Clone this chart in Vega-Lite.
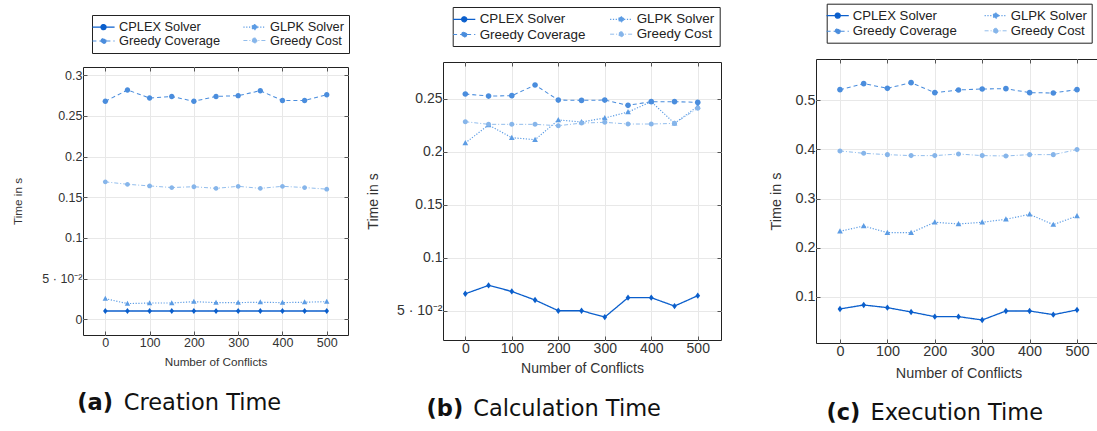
{
  "$schema": "https://vega.github.io/schema/vega-lite/v6.json",
  "background": "white",
  "padding": {"left": 12, "top": 2, "right": -4, "bottom": 5},
  "config": {
    "view": {"stroke": "#222", "strokeWidth": 1},
    "axis": {"labelFont": "Liberation Sans", "titleFont": "Liberation Sans", "labelColor": "#333", "titleColor": "#333", "titleFontWeight": "normal", "tickColor": "#555", "gridColor": "#e8e8e8"}
  },
  "data": {"values": [
    {"p":"a","s":"CPLEX Solver","n":0,"t":0.0102},{"p":"a","s":"CPLEX Solver","n":50,"t":0.0102},{"p":"a","s":"CPLEX Solver","n":100,"t":0.0102},{"p":"a","s":"CPLEX Solver","n":150,"t":0.0102},{"p":"a","s":"CPLEX Solver","n":200,"t":0.0102},{"p":"a","s":"CPLEX Solver","n":250,"t":0.0102},{"p":"a","s":"CPLEX Solver","n":300,"t":0.0102},{"p":"a","s":"CPLEX Solver","n":350,"t":0.0102},{"p":"a","s":"CPLEX Solver","n":400,"t":0.0102},{"p":"a","s":"CPLEX Solver","n":450,"t":0.0102},{"p":"a","s":"CPLEX Solver","n":500,"t":0.0102},
    {"p":"a","s":"GLPK Solver","n":0,"t":0.0254},{"p":"a","s":"GLPK Solver","n":50,"t":0.0193},{"p":"a","s":"GLPK Solver","n":100,"t":0.0200},{"p":"a","s":"GLPK Solver","n":150,"t":0.0200},{"p":"a","s":"GLPK Solver","n":200,"t":0.0217},{"p":"a","s":"GLPK Solver","n":250,"t":0.0205},{"p":"a","s":"GLPK Solver","n":300,"t":0.0205},{"p":"a","s":"GLPK Solver","n":350,"t":0.0210},{"p":"a","s":"GLPK Solver","n":400,"t":0.0205},{"p":"a","s":"GLPK Solver","n":450,"t":0.0210},{"p":"a","s":"GLPK Solver","n":500,"t":0.0217},
    {"p":"a","s":"Greedy Coverage","n":0,"t":0.268},{"p":"a","s":"Greedy Coverage","n":50,"t":0.282},{"p":"a","s":"Greedy Coverage","n":100,"t":0.272},{"p":"a","s":"Greedy Coverage","n":150,"t":0.274},{"p":"a","s":"Greedy Coverage","n":200,"t":0.268},{"p":"a","s":"Greedy Coverage","n":250,"t":0.274},{"p":"a","s":"Greedy Coverage","n":300,"t":0.275},{"p":"a","s":"Greedy Coverage","n":350,"t":0.281},{"p":"a","s":"Greedy Coverage","n":400,"t":0.269},{"p":"a","s":"Greedy Coverage","n":450,"t":0.269},{"p":"a","s":"Greedy Coverage","n":500,"t":0.276},
    {"p":"a","s":"Greedy Cost","n":0,"t":0.169},{"p":"a","s":"Greedy Cost","n":50,"t":0.166},{"p":"a","s":"Greedy Cost","n":100,"t":0.164},{"p":"a","s":"Greedy Cost","n":150,"t":0.162},{"p":"a","s":"Greedy Cost","n":200,"t":0.163},{"p":"a","s":"Greedy Cost","n":250,"t":0.161},{"p":"a","s":"Greedy Cost","n":300,"t":0.1635},{"p":"a","s":"Greedy Cost","n":350,"t":0.161},{"p":"a","s":"Greedy Cost","n":400,"t":0.1635},{"p":"a","s":"Greedy Cost","n":450,"t":0.162},{"p":"a","s":"Greedy Cost","n":500,"t":0.160},
    {"p":"b","s":"CPLEX Solver","n":0,"t":0.066},{"p":"b","s":"CPLEX Solver","n":50,"t":0.0739},{"p":"b","s":"CPLEX Solver","n":100,"t":0.0682},{"p":"b","s":"CPLEX Solver","n":150,"t":0.0601},{"p":"b","s":"CPLEX Solver","n":200,"t":0.050},{"p":"b","s":"CPLEX Solver","n":250,"t":0.050},{"p":"b","s":"CPLEX Solver","n":300,"t":0.044},{"p":"b","s":"CPLEX Solver","n":350,"t":0.0623},{"p":"b","s":"CPLEX Solver","n":400,"t":0.0623},{"p":"b","s":"CPLEX Solver","n":450,"t":0.0544},{"p":"b","s":"CPLEX Solver","n":500,"t":0.0642},
    {"p":"b","s":"GLPK Solver","n":0,"t":0.2082},{"p":"b","s":"GLPK Solver","n":50,"t":0.2252},{"p":"b","s":"GLPK Solver","n":100,"t":0.2132},{"p":"b","s":"GLPK Solver","n":150,"t":0.2113},{"p":"b","s":"GLPK Solver","n":200,"t":0.2299},{"p":"b","s":"GLPK Solver","n":250,"t":0.228},{"p":"b","s":"GLPK Solver","n":300,"t":0.2318},{"p":"b","s":"GLPK Solver","n":350,"t":0.2374},{"p":"b","s":"GLPK Solver","n":400,"t":0.2472},{"p":"b","s":"GLPK Solver","n":450,"t":0.2267},{"p":"b","s":"GLPK Solver","n":500,"t":0.2428},
    {"p":"b","s":"Greedy Coverage","n":0,"t":0.2544},{"p":"b","s":"Greedy Coverage","n":50,"t":0.2525},{"p":"b","s":"Greedy Coverage","n":100,"t":0.2528},{"p":"b","s":"Greedy Coverage","n":150,"t":0.2629},{"p":"b","s":"Greedy Coverage","n":200,"t":0.2487},{"p":"b","s":"Greedy Coverage","n":250,"t":0.2484},{"p":"b","s":"Greedy Coverage","n":300,"t":0.2487},{"p":"b","s":"Greedy Coverage","n":350,"t":0.2437},{"p":"b","s":"Greedy Coverage","n":400,"t":0.2472},{"p":"b","s":"Greedy Coverage","n":450,"t":0.2472},{"p":"b","s":"Greedy Coverage","n":500,"t":0.2465},
    {"p":"b","s":"Greedy Cost","n":0,"t":0.2283},{"p":"b","s":"Greedy Cost","n":50,"t":0.2258},{"p":"b","s":"Greedy Cost","n":100,"t":0.2258},{"p":"b","s":"Greedy Cost","n":150,"t":0.2258},{"p":"b","s":"Greedy Cost","n":200,"t":0.2245},{"p":"b","s":"Greedy Cost","n":250,"t":0.227},{"p":"b","s":"Greedy Cost","n":300,"t":0.2277},{"p":"b","s":"Greedy Cost","n":350,"t":0.2261},{"p":"b","s":"Greedy Cost","n":400,"t":0.2261},{"p":"b","s":"Greedy Cost","n":450,"t":0.2267},{"p":"b","s":"Greedy Cost","n":500,"t":0.2409},
    {"p":"c","s":"CPLEX Solver","n":0,"t":0.0756},{"p":"c","s":"CPLEX Solver","n":50,"t":0.0837},{"p":"c","s":"CPLEX Solver","n":100,"t":0.0783},{"p":"c","s":"CPLEX Solver","n":150,"t":0.0695},{"p":"c","s":"CPLEX Solver","n":200,"t":0.060},{"p":"c","s":"CPLEX Solver","n":250,"t":0.060},{"p":"c","s":"CPLEX Solver","n":300,"t":0.0532},{"p":"c","s":"CPLEX Solver","n":350,"t":0.0715},{"p":"c","s":"CPLEX Solver","n":400,"t":0.0715},{"p":"c","s":"CPLEX Solver","n":450,"t":0.0641},{"p":"c","s":"CPLEX Solver","n":500,"t":0.0736},
    {"p":"c","s":"GLPK Solver","n":0,"t":0.2336},{"p":"c","s":"GLPK Solver","n":50,"t":0.2444},{"p":"c","s":"GLPK Solver","n":100,"t":0.2308},{"p":"c","s":"GLPK Solver","n":150,"t":0.2308},{"p":"c","s":"GLPK Solver","n":200,"t":0.2519},{"p":"c","s":"GLPK Solver","n":250,"t":0.2485},{"p":"c","s":"GLPK Solver","n":300,"t":0.2519},{"p":"c","s":"GLPK Solver","n":350,"t":0.258},{"p":"c","s":"GLPK Solver","n":400,"t":0.2681},{"p":"c","s":"GLPK Solver","n":450,"t":0.2471},{"p":"c","s":"GLPK Solver","n":500,"t":0.2647},
    {"p":"c","s":"Greedy Coverage","n":0,"t":0.5217},{"p":"c","s":"Greedy Coverage","n":50,"t":0.5339},{"p":"c","s":"Greedy Coverage","n":100,"t":0.5244},{"p":"c","s":"Greedy Coverage","n":150,"t":0.5359},{"p":"c","s":"Greedy Coverage","n":200,"t":0.5156},{"p":"c","s":"Greedy Coverage","n":250,"t":0.521},{"p":"c","s":"Greedy Coverage","n":300,"t":0.523},{"p":"c","s":"Greedy Coverage","n":350,"t":0.5237},{"p":"c","s":"Greedy Coverage","n":400,"t":0.5156},{"p":"c","s":"Greedy Coverage","n":450,"t":0.5149},{"p":"c","s":"Greedy Coverage","n":500,"t":0.5217},
    {"p":"c","s":"Greedy Cost","n":0,"t":0.397},{"p":"c","s":"Greedy Cost","n":50,"t":0.3922},{"p":"c","s":"Greedy Cost","n":100,"t":0.3895},{"p":"c","s":"Greedy Cost","n":150,"t":0.3875},{"p":"c","s":"Greedy Cost","n":200,"t":0.3875},{"p":"c","s":"Greedy Cost","n":250,"t":0.3908},{"p":"c","s":"Greedy Cost","n":300,"t":0.3875},{"p":"c","s":"Greedy Cost","n":350,"t":0.3868},{"p":"c","s":"Greedy Cost","n":400,"t":0.3895},{"p":"c","s":"Greedy Cost","n":450,"t":0.3895},{"p":"c","s":"Greedy Cost","n":500,"t":0.3997}
  ]},
  "spacing": 95,
  "bounds": "flush",
  "center": true,
  "resolve": {"scale": {"color": "independent", "fill": "independent", "strokeDash": "independent", "strokeWidth": "independent", "shape": "independent"}, "legend": {"color": "independent"}},
  "hconcat": [
    {
      "width": 265, "height": 268,
      "transform": [{"filter": "datum.p == 'a'"}],
      "resolve": {"axis": {"x": "independent", "y": "independent"}},
      "layer": [
        {
          "mark": {"type": "line"},
          "encoding": {
            "x": {"field": "n", "type": "quantitative", "scale": {"domain": [-50.4, 548], "nice": false, "zero": false},
                  "axis": {"orient": "bottom", "values": [0,100,200,300,400,500], "format": "d", "title": "Number of Conflicts", "grid": true, "domain": false, "tickSize": -4, "labelFontSize": 12.5, "labelPadding": 5, "titleFontSize": 11.7, "titlePadding": 8}},
            "y": {"field": "t", "type": "quantitative", "scale": {"domain": [-0.0193, 0.3102], "nice": false, "zero": false},
                  "axis": {"orient": "left", "values": [0,0.05,0.1,0.15,0.2,0.25,0.3], "labelExpr": "datum.value == 0.05 ? '5 · 10⁻²' : format(datum.value, '~g')", "title": "Time in s", "grid": true, "domain": false, "tickSize": -4, "labelFontSize": 12.5, "labelPadding": 5, "titleFontSize": 11.7, "titlePadding": 18}},
            "color": {"field": "s", "type": "nominal",
              "scale": {"domain": ["CPLEX Solver","GLPK Solver","Greedy Coverage","Greedy Cost"], "range": ["#0b5fcc","#5c9ce4","#4a8ddd","#86b5ea"]},
              "legend": {"orient": "none", "legendX": 9, "legendY": -52, "direction": "horizontal", "columns": 2, "gridAlign": "each", "title": null, "strokeColor": "#222", "fillColor": "white", "padding": 5, "columnPadding": 20, "rowPadding": 0, "symbolSize": 144, "symbolOffset": -0.5, "labelOffset": 8.5, "labelFont": "Liberation Sans", "labelFontSize": 12.8, "labelColor": "#222", "symbolStrokeWidth": 1.1,
                "symbolType": "M-1.85,0L1.85,0M0.42,0A0.42,0.42,0,1,1,-0.42,0A0.42,0.42,0,1,1,0.42,0Z"}},
            "strokeDash": {"field": "s", "type": "nominal", "scale": {"domain": ["CPLEX Solver","GLPK Solver","Greedy Coverage","Greedy Cost"], "range": [[1,0],[1.2,1.6],[4,3],[4,2,1,2]]}, "legend": null},
            "strokeWidth": {"field": "s", "type": "ordinal", "scale": {"domain": ["CPLEX Solver","GLPK Solver","Greedy Coverage","Greedy Cost"], "range": [1.3,0.9,1.1,1.1]}, "legend": null}
          }
        },
        {
          "mark": {"type": "point", "filled": true, "opacity": 1, "size": 36, "strokeWidth": 0},
          "encoding": {
            "x": {"field": "n", "type": "quantitative", "axis": {"orient": "top", "values": [0,100,200,300,400,500], "labels": false, "title": null, "grid": false, "domain": false, "tickSize": -4}},
            "y": {"field": "t", "type": "quantitative", "axis": {"orient": "right", "values": [0,0.05,0.1,0.15,0.2,0.25,0.3], "labels": false, "title": null, "grid": false, "domain": false, "tickSize": -4}},
            "fill": {"field": "s", "type": "nominal", "scale": {"domain": ["CPLEX Solver","GLPK Solver","Greedy Coverage","Greedy Cost"], "range": ["#0b5fcc","#5c9ce4","#4a8ddd","#86b5ea"]}, "legend": null},
            "shape": {"field": "s", "type": "nominal", "scale": {"domain": ["Greedy Cost","Greedy Coverage","GLPK Solver","CPLEX Solver"], "range": ["M0.8,0A0.8,0.8,0,1,1,-0.8,0A0.8,0.8,0,1,1,0.8,0Z","M0.9,0A0.9,0.9,0,1,1,-0.9,0A0.9,0.9,0,1,1,0.9,0Z","M0,-0.95L0.9,0.7L-0.9,0.7Z","M0,-1L0.75,0L0,1L-0.75,0Z"]}, "legend": null}
          }
        },
        {
          "mark": {"type": "point", "opacity": 0},
          "encoding": {
            "x": {"field": "n", "type": "quantitative", "axis": {"orient": "bottom", "labels": false, "ticks": false, "grid": false, "domain": false, "title": "Creation Time", "titleX": 40.3, "titleY": 74, "titleAlign": "left", "titleBaseline": "alphabetic", "titleAngle": 0, "titleFont": "DejaVu Sans", "titleFontSize": 22.5, "titleFontWeight": "normal", "titleColor": "#111"}},
            "y": {"field": "t", "type": "quantitative", "axis": {"orient": "left", "labels": false, "ticks": false, "grid": false, "domain": false, "title": "(a)", "titleX": -6.3, "titleY": 342, "titleAlign": "left", "titleBaseline": "alphabetic", "titleAngle": 0, "titleFont": "DejaVu Sans", "titleFontSize": 22.5, "titleFontWeight": "bold", "titleColor": "#111"}}
          }
        }
      ]
    },
    {
      "width": 278, "height": 278,
      "transform": [{"filter": "datum.p == 'b'"}],
      "resolve": {"axis": {"x": "independent", "y": "independent"}},
      "layer": [
        {
          "mark": {"type": "line"},
          "encoding": {
            "x": {"field": "n", "type": "quantitative", "scale": {"domain": [-48, 550], "nice": false, "zero": false},
                  "axis": {"orient": "bottom", "values": [0,100,200,300,400,500], "format": "d", "title": "Number of Conflicts", "grid": true, "domain": false, "tickSize": -4, "labelFontSize": 14, "labelPadding": 5, "titleFontSize": 14, "titlePadding": 6}},
            "y": {"field": "t", "type": "quantitative", "scale": {"domain": [0.0224, 0.2846], "nice": false, "zero": false},
                  "axis": {"orient": "left", "values": [0.05,0.1,0.15,0.2,0.25], "labelExpr": "datum.value == 0.05 ? '5 · 10⁻²' : format(datum.value, '~g')", "title": "Time in s", "grid": true, "domain": false, "tickSize": -4, "labelFontSize": 14, "labelPadding": 5, "titleFontSize": 14, "titlePadding": 16}},
            "color": {"field": "s", "type": "nominal",
              "scale": {"domain": ["CPLEX Solver","GLPK Solver","Greedy Coverage","Greedy Cost"], "range": ["#0b5fcc","#5c9ce4","#4a8ddd","#86b5ea"]},
              "legend": {"orient": "none", "legendX": 9.7, "legendY": -55, "direction": "horizontal", "columns": 2, "gridAlign": "each", "title": null, "strokeColor": "#222", "fillColor": "white", "padding": 5, "columnPadding": 22, "rowPadding": 0.5, "symbolSize": 144, "symbolOffset": -0.5, "labelOffset": 8.5, "labelFont": "Liberation Sans", "labelFontSize": 13.4, "labelColor": "#222", "symbolStrokeWidth": 1.1,
                "symbolType": "M-1.85,0L1.85,0M0.42,0A0.42,0.42,0,1,1,-0.42,0A0.42,0.42,0,1,1,0.42,0Z"}},
            "strokeDash": {"field": "s", "type": "nominal", "scale": {"domain": ["CPLEX Solver","GLPK Solver","Greedy Coverage","Greedy Cost"], "range": [[1,0],[1.2,1.6],[4,3],[4,2,1,2]]}, "legend": null},
            "strokeWidth": {"field": "s", "type": "ordinal", "scale": {"domain": ["CPLEX Solver","GLPK Solver","Greedy Coverage","Greedy Cost"], "range": [1.3,0.9,1.1,1.1]}, "legend": null}
          }
        },
        {
          "mark": {"type": "point", "filled": true, "opacity": 1, "size": 40, "strokeWidth": 0},
          "encoding": {
            "x": {"field": "n", "type": "quantitative", "axis": {"orient": "top", "values": [0,100,200,300,400,500], "labels": false, "title": null, "grid": false, "domain": false, "tickSize": -4}},
            "y": {"field": "t", "type": "quantitative", "axis": {"orient": "right", "values": [0.05,0.1,0.15,0.2,0.25], "labels": false, "title": null, "grid": false, "domain": false, "tickSize": -4}},
            "fill": {"field": "s", "type": "nominal", "scale": {"domain": ["CPLEX Solver","GLPK Solver","Greedy Coverage","Greedy Cost"], "range": ["#0b5fcc","#5c9ce4","#4a8ddd","#86b5ea"]}, "legend": null},
            "shape": {"field": "s", "type": "nominal", "scale": {"domain": ["Greedy Cost","Greedy Coverage","GLPK Solver","CPLEX Solver"], "range": ["M0.8,0A0.8,0.8,0,1,1,-0.8,0A0.8,0.8,0,1,1,0.8,0Z","M0.9,0A0.9,0.9,0,1,1,-0.9,0A0.9,0.9,0,1,1,0.9,0Z","M0,-0.95L0.9,0.7L-0.9,0.7Z","M0,-1L0.75,0L0,1L-0.75,0Z"]}, "legend": null}
          }
        },
        {
          "mark": {"type": "point", "opacity": 0},
          "encoding": {
            "x": {"field": "n", "type": "quantitative", "axis": {"orient": "bottom", "labels": false, "ticks": false, "grid": false, "domain": false, "title": "Calculation Time", "titleX": 29.7, "titleY": 75.2, "titleAlign": "left", "titleBaseline": "alphabetic", "titleAngle": 0, "titleFont": "DejaVu Sans", "titleFontSize": 22.5, "titleFontWeight": "normal", "titleColor": "#111"}},
            "y": {"field": "t", "type": "quantitative", "axis": {"orient": "left", "labels": false, "ticks": false, "grid": false, "domain": false, "title": "(b)", "titleX": -17, "titleY": 353.2, "titleAlign": "left", "titleBaseline": "alphabetic", "titleAngle": 0, "titleFont": "DejaVu Sans", "titleFontSize": 22.5, "titleFontWeight": "bold", "titleColor": "#111"}}
          }
        }
      ]
    },
    {
      "width": 285, "height": 284,
      "transform": [{"filter": "datum.p == 'c'"}],
      "resolve": {"axis": {"x": "independent", "y": "independent"}},
      "layer": [
        {
          "mark": {"type": "line"},
          "encoding": {
            "x": {"field": "n", "type": "quantitative", "scale": {"domain": [-50.6, 550.6], "nice": false, "zero": false},
                  "axis": {"orient": "bottom", "values": [0,100,200,300,400,500], "format": "d", "title": "Number of Conflicts", "grid": true, "domain": false, "tickSize": -4, "labelFontSize": 14.4, "labelPadding": 5, "titleFontSize": 14.4, "titlePadding": 9}},
            "y": {"field": "t", "type": "quantitative", "scale": {"domain": [0.0064, 0.584], "nice": false, "zero": false},
                  "axis": {"orient": "left", "values": [0.1,0.2,0.3,0.4,0.5], "labelExpr": "format(datum.value, '~g')", "title": "Time in s", "grid": true, "domain": false, "tickSize": -4, "labelFontSize": 14.4, "labelPadding": 5, "titleFontSize": 14.4, "titlePadding": 11}},
            "color": {"field": "s", "type": "nominal",
              "scale": {"domain": ["CPLEX Solver","GLPK Solver","Greedy Coverage","Greedy Cost"], "range": ["#0b5fcc","#5c9ce4","#4a8ddd","#86b5ea"]},
              "legend": {"orient": "none", "legendX": 10.7, "legendY": -55.3, "direction": "horizontal", "columns": 2, "gridAlign": "each", "title": null, "strokeColor": "#222", "fillColor": "white", "padding": 4.5, "columnPadding": 25, "rowPadding": 1, "symbolSize": 144, "symbolOffset": -0.5, "labelOffset": 8, "labelFont": "Liberation Sans", "labelFontSize": 13.2, "labelColor": "#222", "symbolStrokeWidth": 1.1,
                "symbolType": "M-1.85,0L1.85,0M0.42,0A0.42,0.42,0,1,1,-0.42,0A0.42,0.42,0,1,1,0.42,0Z"}},
            "strokeDash": {"field": "s", "type": "nominal", "scale": {"domain": ["CPLEX Solver","GLPK Solver","Greedy Coverage","Greedy Cost"], "range": [[1,0],[1.2,1.6],[4,3],[4,2,1,2]]}, "legend": null},
            "strokeWidth": {"field": "s", "type": "ordinal", "scale": {"domain": ["CPLEX Solver","GLPK Solver","Greedy Coverage","Greedy Cost"], "range": [1.3,0.9,1.1,1.1]}, "legend": null}
          }
        },
        {
          "mark": {"type": "point", "filled": true, "opacity": 1, "size": 40, "strokeWidth": 0},
          "encoding": {
            "x": {"field": "n", "type": "quantitative", "axis": {"orient": "top", "values": [0,100,200,300,400,500], "labels": false, "title": null, "grid": false, "domain": false, "tickSize": -4}},
            "y": {"field": "t", "type": "quantitative", "axis": {"orient": "right", "values": [0.1,0.2,0.3,0.4,0.5], "labels": false, "title": null, "grid": false, "domain": false, "tickSize": -4}},
            "fill": {"field": "s", "type": "nominal", "scale": {"domain": ["CPLEX Solver","GLPK Solver","Greedy Coverage","Greedy Cost"], "range": ["#0b5fcc","#5c9ce4","#4a8ddd","#86b5ea"]}, "legend": null},
            "shape": {"field": "s", "type": "nominal", "scale": {"domain": ["Greedy Cost","Greedy Coverage","GLPK Solver","CPLEX Solver"], "range": ["M0.8,0A0.8,0.8,0,1,1,-0.8,0A0.8,0.8,0,1,1,0.8,0Z","M0.9,0A0.9,0.9,0,1,1,-0.9,0A0.9,0.9,0,1,1,0.9,0Z","M0,-0.95L0.9,0.7L-0.9,0.7Z","M0,-1L0.75,0L0,1L-0.75,0Z"]}, "legend": null}
          }
        },
        {
          "mark": {"type": "point", "opacity": 0},
          "encoding": {
            "x": {"field": "n", "type": "quantitative", "axis": {"orient": "bottom", "labels": false, "ticks": false, "grid": false, "domain": false, "title": "Execution Time", "titleX": 54, "titleY": 76.2, "titleAlign": "left", "titleBaseline": "alphabetic", "titleAngle": 0, "titleFont": "DejaVu Sans", "titleFontSize": 22.5, "titleFontWeight": "normal", "titleColor": "#111"}},
            "y": {"field": "t", "type": "quantitative", "axis": {"orient": "left", "labels": false, "ticks": false, "grid": false, "domain": false, "title": "(c)", "titleX": 10, "titleY": 360.2, "titleAlign": "left", "titleBaseline": "alphabetic", "titleAngle": 0, "titleFont": "DejaVu Sans", "titleFontSize": 22.5, "titleFontWeight": "bold", "titleColor": "#111"}}
          }
        }
      ]
    }
  ]
}
